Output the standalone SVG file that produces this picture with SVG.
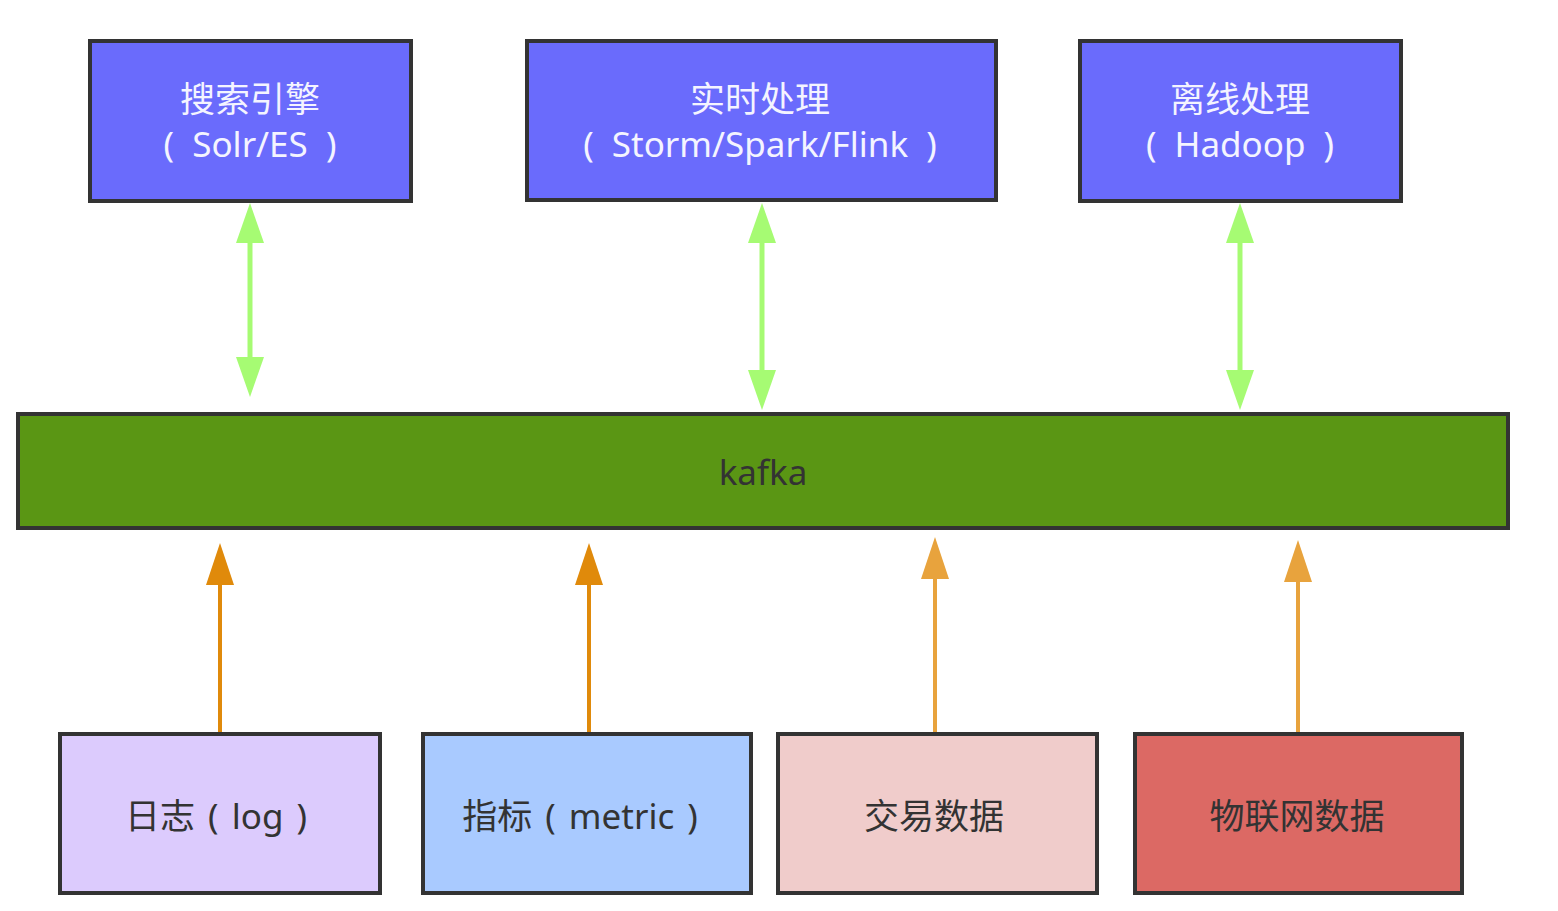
<svg xmlns="http://www.w3.org/2000/svg" width="1558" height="911" viewBox="0 0 1558 911">
<style>
.box{stroke:#333;stroke-width:4}
.top{fill:#6a6bfc}
.t{font-family:"Noto Sans","Noto Sans CJK SC",sans-serif;font-size:35px;text-anchor:middle}
.l{font-family:"Noto Sans","Noto Sans CJK SC",sans-serif;font-size:35px;text-anchor:middle;word-spacing:9px}
.b{font-family:"Noto Sans","Noto Sans CJK SC",sans-serif;font-size:35px;text-anchor:middle;word-spacing:4px}
.w{fill:#f4f4ff}
.d{fill:#333}
.g{stroke:#a6fb73;stroke-width:5;fill:none}
.o1{stroke:#e08a0b;stroke-width:4;fill:none}
.o2{stroke:#e8a33d;stroke-width:4;fill:none}
</style>
<defs>
<marker id="mg" viewBox="0 0 40 28" refX="0" refY="14" markerWidth="40" markerHeight="28" markerUnits="userSpaceOnUse" orient="auto-start-reverse"><path d="M0,0 L40,14 L0,28 z" fill="#a6fb73"/></marker>
<marker id="mo1" viewBox="0 0 42 28" refX="0" refY="14" markerWidth="42" markerHeight="28" markerUnits="userSpaceOnUse" orient="auto"><path d="M0,0 L42,14 L0,28 z" fill="#e08a0b"/></marker>
<marker id="mo2" viewBox="0 0 42 28" refX="0" refY="14" markerWidth="42" markerHeight="28" markerUnits="userSpaceOnUse" orient="auto"><path d="M0,0 L42,14 L0,28 z" fill="#e8a33d"/></marker>
</defs>
<rect width="1558" height="911" fill="#fff"/>
<g id="connectors">
<line class="g" x1="250" y1="243" x2="250" y2="357" marker-start="url(#mg)" marker-end="url(#mg)"/>
<line class="g" x1="762" y1="243" x2="762" y2="370" marker-start="url(#mg)" marker-end="url(#mg)"/>
<line class="g" x1="1240" y1="243" x2="1240" y2="370" marker-start="url(#mg)" marker-end="url(#mg)"/>
<line class="o1" x1="220" y1="733" x2="220" y2="585" marker-end="url(#mo1)"/>
<line class="o1" x1="589" y1="733" x2="589" y2="585" marker-end="url(#mo1)"/>
<line class="o2" x1="935" y1="733" x2="935" y2="579" marker-end="url(#mo2)"/>
<line class="o2" x1="1298" y1="733" x2="1298" y2="582" marker-end="url(#mo2)"/>
</g>
<g id="search">
<rect class="box top" x="90" y="41" width="321" height="160"/>
<text class="t w" x="250" y="112">搜索引擎</text>
<text class="l w" x="250" y="157">( Solr/ES )</text>
</g>
<g id="realtime">
<rect class="box top" x="527" y="41" width="469" height="159"/>
<text class="t w" x="760" y="112">实时处理</text>
<text class="l w" x="760" y="157">( Storm/Spark/Flink )</text>
</g>
<g id="offline">
<rect class="box top" x="1080" y="41" width="321" height="160"/>
<text class="t w" x="1240" y="112">离线处理</text>
<text class="l w" x="1240" y="157">( Hadoop )</text>
</g>
<g id="kafka">
<rect class="box" fill="#5a9614" x="18" y="414" width="1490" height="114"/>
<text class="t d" x="763" y="485">kafka</text>
</g>
<g id="log">
<rect class="box" fill="#dccbfd" x="60" y="734" width="320" height="159"/>
<text class="b d" x="216" y="829">日志 ( log )</text>
</g>
<g id="metric">
<rect class="box" fill="#a9caff" x="423" y="734" width="328" height="159"/>
<text class="b d" x="580" y="829">指标 ( metric )</text>
</g>
<g id="trade">
<rect class="box" fill="#f0cccb" x="778" y="734" width="319" height="159"/>
<text class="t d" x="934" y="829">交易数据</text>
</g>
<g id="iot">
<rect class="box" fill="#dc6964" x="1135" y="734" width="327" height="159"/>
<text class="t d" x="1297" y="829">物联网数据</text>
</g>
</svg>
